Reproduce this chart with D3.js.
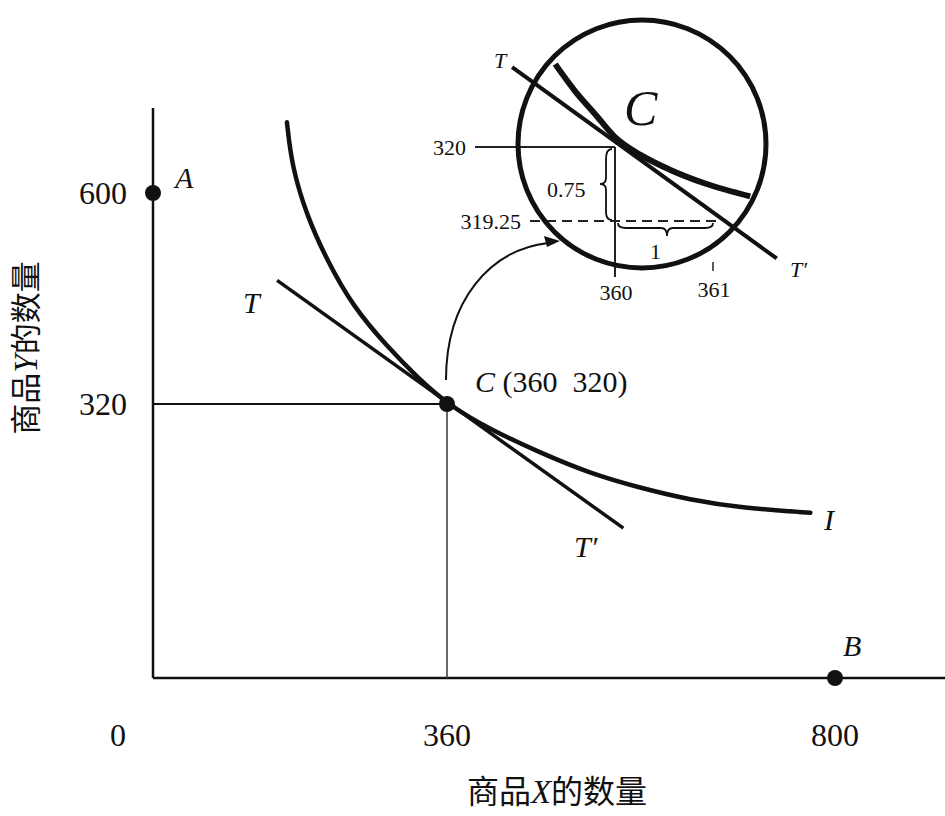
<!DOCTYPE html>
<html>
<head>
<meta charset="utf-8">
<script src="https://cdn.jsdelivr.net/npm/d3@7"></script>
<style>
  html, body { margin: 0; padding: 0; background: #fff; }
  svg { display: block; }
</style>
</head>
<body>
<script>
// ---------- data ----------
const xTickValues = [360, 800];
const yTickValues = [320, 600];
const originLabel = "0";

// indifference curve I (X, Y)
const curveX = [164, 170, 189, 213, 245, 287, 323, 360, 409, 466, 522, 579, 636, 692, 772];
const curveY = [694, 635, 568, 511, 449, 396, 356, 320, 290, 263, 239, 222, 208, 199, 193];

// tangent line T–T'
const tangentX = [152, 560];
const tangentY = [484, 175];

// points
const pointNames = ["A", "C", "B"];
const pointX = [0, 360, 800];
const pointY = [600, 320, 0];

// inset (magnified around C)
const insetTickX = [360, 361];
const insetTickY = [320, 319.25];
const insetCurveX = [359.39, 359.59, 359.80, 360.0, 360.26, 360.56, 360.92, 361.38];
const insetCurveY = [320.84, 320.57, 320.33, 320.1, 319.92, 319.77, 319.63, 319.5];
const insetLineX = [358.95, 361.65];
const insetLineY = [320.81, 318.87];
const insetDY = "0.75";
const insetDX = "1";

// ---------- setup ----------
const W = 945, H = 816;
const svg = d3.select("body").append("svg").attr("width", W).attr("height", H)
  .style("background", "#fff");

const serif = "'Liberation Serif', 'DejaVu Serif', serif";
const cjk = "'Noto Sans CJK SC', 'Noto Sans', sans-serif";

const x = d3.scaleLinear().domain([0, 360, 800]).range([153, 447, 835]);
const y = d3.scaleLinear().domain([0, 320, 600]).range([678, 404, 193]);

// ---------- axes ----------
svg.append("line").attr("x1", x(0)).attr("x2", x(0)).attr("y1", 108).attr("y2", y(0))
  .attr("stroke", "#111").attr("stroke-width", 2.5);
svg.append("line").attr("x1", x(0)).attr("x2", W).attr("y1", y(0)).attr("y2", y(0))
  .attr("stroke", "#111").attr("stroke-width", 2.5);

// guides to C
svg.append("line").attr("x1", x(0)).attr("x2", x(360)).attr("y1", y(320)).attr("y2", y(320))
  .attr("stroke", "#111").attr("stroke-width", 2);
svg.append("line").attr("x1", x(360)).attr("x2", x(360)).attr("y1", y(320)).attr("y2", y(0))
  .attr("stroke", "#444").attr("stroke-width", 1.6);

// tick labels
svg.selectAll(".xt").data(xTickValues).join("text")
  .attr("x", d => x(d)).attr("y", y(0) + 68)
  .attr("text-anchor", "middle").attr("font-family", serif).attr("font-size", 32)
  .attr("fill", "#111").text(d => d);
svg.append("text").attr("x", x(0) - 35).attr("y", y(0) + 68)
  .attr("text-anchor", "middle").attr("font-family", serif).attr("font-size", 32)
  .attr("fill", "#111").text(originLabel);
svg.selectAll(".yt").data(yTickValues).join("text")
  .attr("x", x(0) - 26).attr("y", d => y(d) + 11)
  .attr("text-anchor", "end").attr("font-family", serif).attr("font-size", 32)
  .attr("fill", "#111").text(d => d);

// axis titles
const xt = svg.append("text").attr("x", 557).attr("y", 803).attr("text-anchor", "middle")
  .attr("font-family", cjk).attr("font-size", 32).attr("fill", "#111");
xt.append("tspan").text("商品");
xt.append("tspan").attr("font-family", serif).attr("font-style", "italic").attr("font-size", 33).text("X");
xt.append("tspan").text("的数量");

const yt = svg.append("text").attr("transform", "translate(37,348) rotate(-90)").attr("text-anchor", "middle")
  .attr("font-family", cjk).attr("font-size", 31).attr("fill", "#111");
yt.append("tspan").text("商品");
yt.append("tspan").attr("font-family", serif).attr("font-style", "italic").attr("font-size", 33).text("Y");
yt.append("tspan").text("的数量");

// ---------- indifference curve ----------
const line = d3.line().x(d => x(d[0])).y(d => y(d[1])).curve(d3.curveBasis);
const cpts = curveX.map((v, i) => [v, curveY[i]]);
svg.append("path").datum([cpts[0], ...cpts, cpts[cpts.length - 1]])
  .attr("d", line).attr("fill", "none").attr("stroke", "#111").attr("stroke-width", 4.5)
  .attr("stroke-linecap", "round");

// tangent
svg.append("line").attr("x1", x(tangentX[0])).attr("y1", y(tangentY[0]))
  .attr("x2", x(tangentX[1])).attr("y2", y(tangentY[1]))
  .attr("stroke", "#111").attr("stroke-width", 3.5);

// points
svg.selectAll(".pt").data(pointNames).join("circle")
  .attr("cx", (d, i) => x(pointX[i])).attr("cy", (d, i) => y(pointY[i])).attr("r", 8)
  .attr("fill", "#111");

// labels
function itext(px, py, t, size) {
  return svg.append("text").attr("x", px).attr("y", py).attr("font-family", serif)
    .attr("font-style", "italic").attr("font-size", size).attr("fill", "#111").text(t);
}
itext(x(0) + 22, y(600) - 5, "A", 30);
itext(x(800) + 8, y(0) - 22, "B", 30);
itext(243, 313, "T", 30);
itext(574, 557, "T′", 30);
itext(824, 530, "I", 30);
const cl = svg.append("text").attr("x", 475).attr("y", 392).attr("font-family", serif)
  .attr("font-size", 30).attr("fill", "#111");
cl.append("tspan").attr("font-style", "italic").text("C");
cl.append("tspan").attr("xml:space", "preserve").text(" (" + pointX[1] + "  " + pointY[1] + ")");

// arrow from C to inset
svg.append("path").attr("d", "M446,380 C446,300 490,250 548,243")
  .attr("fill", "none").attr("stroke", "#111").attr("stroke-width", 2);
svg.append("path").attr("d", "M560,241 L544,236 L547,247 Z").attr("fill", "#111");

// ---------- inset ----------
const ix = d3.scaleLinear().domain([360, 361]).range([615, 713]);
const iy = d3.scaleLinear().domain([319.25, 320]).range([221, 147]);
const g = svg.append("g");

// guide 320 (horizontal) and 360 (vertical)
g.append("line").attr("x1", 475).attr("x2", ix(360)).attr("y1", iy(320)).attr("y2", iy(320))
  .attr("stroke", "#222").attr("stroke-width", 2);
g.append("line").attr("x1", ix(360)).attr("x2", ix(360)).attr("y1", iy(320)).attr("y2", 277)
  .attr("stroke", "#222").attr("stroke-width", 2);
// dashed 319.25
g.append("line").attr("x1", 530).attr("x2", 717).attr("y1", iy(319.25)).attr("y2", iy(319.25))
  .attr("stroke", "#222").attr("stroke-width", 2).attr("stroke-dasharray", "10,6");
// tick at 361
g.append("line").attr("x1", ix(361)).attr("x2", ix(361)).attr("y1", 262).attr("y2", 271)
  .attr("stroke", "#222").attr("stroke-width", 1.5);

// inset tick labels
g.selectAll(".iyt").data(insetTickY).join("text")
  .attr("x", (d, i) => i === 0 ? 466 : 521).attr("y", d => iy(d) + 8)
  .attr("text-anchor", "end").attr("font-family", serif).attr("font-size", 22)
  .attr("fill", "#111").text(d => d);
g.selectAll(".ixt").data(insetTickX).join("text")
  .attr("x", d => ix(d) + 1).attr("y", (d, i) => i === 0 ? 300 : 297)
  .attr("text-anchor", "middle").attr("font-family", serif).attr("font-size", 22)
  .attr("fill", "#111").text(d => d);

// braces
const bx = ix(360) - 9, by0 = iy(320) + 2, by1 = iy(319.25) - 1, bm = 184;
g.append("path").attr("d",
  `M${bx + 6},${by0} Q${bx},${by0} ${bx},${by0 + 10} L${bx},${bm - 6} Q${bx},${bm} ${bx - 6},${bm}` +
  ` Q${bx},${bm} ${bx},${bm + 6} L${bx},${by1 - 8} Q${bx},${by1} ${bx + 6},${by1}`)
  .attr("fill", "none").attr("stroke", "#111").attr("stroke-width", 1.8);
const hy = iy(319.25) + 7, hx0 = ix(360) + 3, hx1 = ix(361), hm = 667;
g.append("path").attr("d",
  `M${hx0},${hy - 5} Q${hx0},${hy} ${hx0 + 8},${hy} L${hm - 6},${hy} Q${hm},${hy} ${hm},${hy + 8}` +
  ` Q${hm},${hy} ${hm + 6},${hy} L${hx1 - 8},${hy} Q${hx1},${hy} ${hx1},${hy - 5}`)
  .attr("fill", "none").attr("stroke", "#111").attr("stroke-width", 1.8);
g.append("text").attr("x", 547).attr("y", 197).attr("font-family", serif).attr("font-size", 22)
  .attr("fill", "#111").text(insetDY);
g.append("text").attr("x", 650).attr("y", 259).attr("font-family", serif).attr("font-size", 22)
  .attr("fill", "#111").text(insetDX);

// tangent line in inset
g.append("line").attr("x1", ix(insetLineX[0])).attr("y1", iy(insetLineY[0]))
  .attr("x2", ix(insetLineX[1])).attr("y2", iy(insetLineY[1]))
  .attr("stroke", "#111").attr("stroke-width", 4);
// curve in inset
const iline = d3.line().x(d => ix(d[0])).y(d => iy(d[1])).curve(d3.curveMonotoneX);
g.append("path").datum(insetCurveX.map((v, i) => [v, insetCurveY[i]]))
  .attr("d", iline).attr("fill", "none").attr("stroke", "#111").attr("stroke-width", 6);

// circle
g.append("circle").attr("cx", 642).attr("cy", 144).attr("r", 124)
  .attr("fill", "none").attr("stroke", "#111").attr("stroke-width", 5);

// inset labels
g.append("text").attr("x", 494).attr("y", 68).attr("font-family", serif).attr("font-style", "italic")
  .attr("font-size", 22).attr("fill", "#111").text("T");
g.append("text").attr("x", 790).attr("y", 277).attr("font-family", serif).attr("font-style", "italic")
  .attr("font-size", 22).attr("fill", "#111").text("T′");
g.append("text").attr("x", 624).attr("y", 125).attr("font-family", serif).attr("font-style", "italic")
  .attr("font-size", 50).attr("fill", "#111").text("C");
</script>
</body>
</html>
